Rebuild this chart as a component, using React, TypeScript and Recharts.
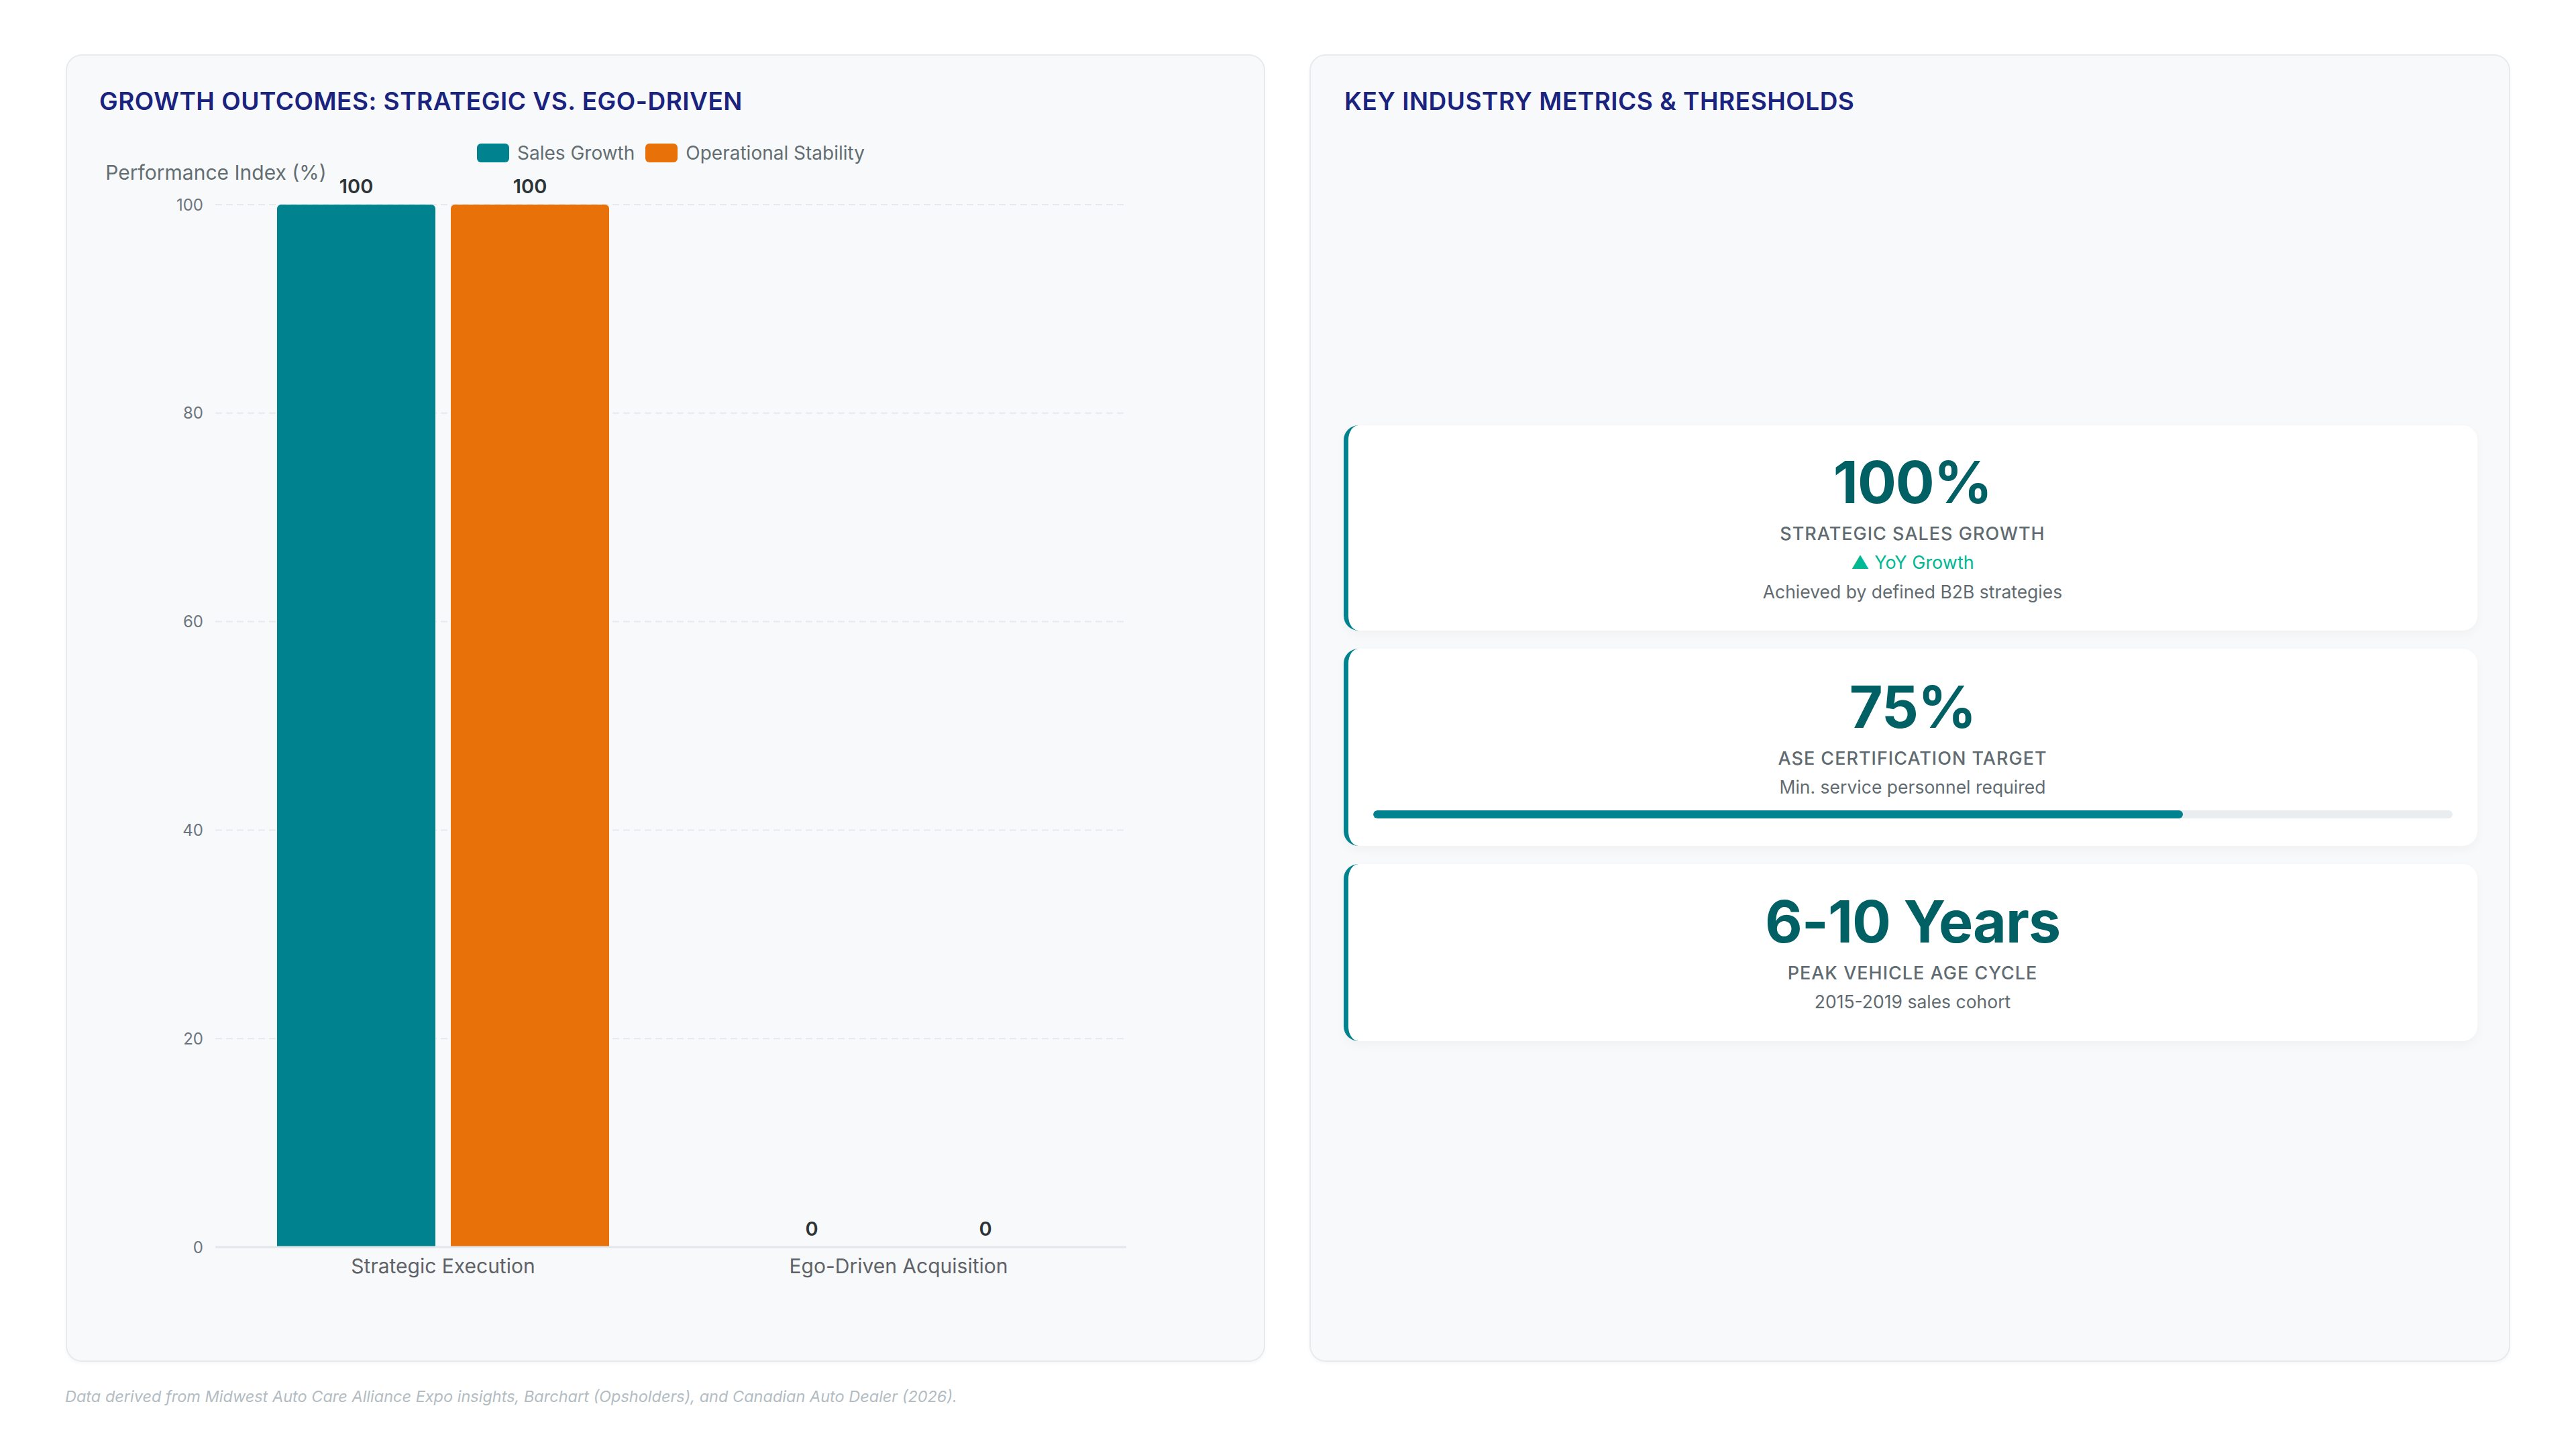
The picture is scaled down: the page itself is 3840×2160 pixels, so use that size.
import React from 'react'
import {
  BarChart,
  Bar,
  XAxis,
  YAxis,
  CartesianGrid,
  Legend,
  LabelList,
} from 'recharts'

// chart data
const categories = ['Strategic Execution', 'Ego-Driven Acquisition']
const seriesNames = ['Sales Growth', 'Operational Stability']
const salesGrowth = [100, 0]
const operationalStability = [100, 0]
const yTicks = [0, 20, 40, 60, 80, 100]

// key metric cards
const metricValues = ['100%', '75%', '6-10 Years']
const metricLabels = [
  'STRATEGIC SALES GROWTH',
  'ASE CERTIFICATION TARGET',
  'PEAK VEHICLE AGE CYCLE',
]
const metricTrends = ['▲ YoY Growth', '', '']
const metricNotes = [
  'Achieved by defined B2B strategies',
  'Min. service personnel required',
  '2015-2019 sales cohort',
]
const certificationProgress = 75

const FONT = 'Inter, "Noto Sans", sans-serif'
const TEAL = '#00838f'
const ORANGE = '#e8710a'
const seriesColors = [TEAL, ORANGE]

const chartData = categories.map((name, i) => ({
  name,
  sales: salesGrowth[i],
  stability: operationalStability[i],
}))

// place a line of text by its baseline (Inter, line-height 1)
function Txt({
  left,
  baseline,
  size,
  width,
  align = 'left',
  weight = 400,
  color = '#333',
  spacing = 0,
  italic = false,
  children,
}: {
  left: number
  baseline: number
  size: number
  width?: number
  align?: 'left' | 'center'
  weight?: number
  color?: string
  spacing?: number
  italic?: boolean
  children: React.ReactNode
}) {
  return (
    <div
      style={{
        position: 'absolute',
        left,
        width,
        top: baseline - 0.864 * size,
        fontSize: size,
        lineHeight: `${size}px`,
        fontWeight: weight,
        color,
        letterSpacing: spacing,
        fontStyle: italic ? 'italic' : 'normal',
        textAlign: align,
        whiteSpace: 'nowrap',
        fontFamily: FONT,
      }}
    >
      {children}
    </div>
  )
}

const YAxisTitle = (props: any) => {
  const vb = props.viewBox || { x: 0, y: 0, width: 0 }
  return (
    <text
      x={vb.x + vb.width + 1}
      y={vb.y - 37}
      textAnchor="middle"
      fontSize={30}
      fill="#636e72"
      fontFamily={FONT}
    >
      Performance Index (%)
    </text>
  )
}

// value above each bar, also drawn for zero-height bars
const BarValueLabel = (props: any) => {
  const vb = props.viewBox || props
  if (vb.x == null || vb.y == null) return null
  return (
    <text
      x={vb.x + vb.width / 2}
      y={vb.y - 17}
      textAnchor="middle"
      fontSize={29}
      fontWeight={600}
      fill="#2d3436"
      fontFamily={FONT}
    >
      {props.value}
    </text>
  )
}

const renderLegend = (props: any) => {
  const payload = [...(props.payload || [])].sort(
    (a: any, b: any) => seriesNames.indexOf(a.value) - seriesNames.indexOf(b.value)
  )
  return (
    <div
      style={{
        display: 'flex',
        justifyContent: 'center',
        alignItems: 'center',
        height: 40,
        gap: 16,
        fontFamily: FONT,
      }}
    >
      {payload.map((entry: any) => (
        <div
          key={entry.value}
          style={{ display: 'flex', alignItems: 'center', gap: 12 }}
        >
          <span
            style={{
              width: 48,
              height: 28,
              borderRadius: 6,
              background: seriesColors[seriesNames.indexOf(entry.value)] || entry.color,
              display: 'inline-block',
            }}
          />
          <span style={{ fontSize: 28, color: '#636e72' }}>{entry.value}</span>
        </div>
      ))}
    </div>
  )
}

function GrowthChart() {
  return (
    <div style={{ position: 'absolute', left: 147, top: 180 }}>
      <BarChart
        width={1690}
        height={1760}
        data={chartData}
        margin={{ top: 85, right: 158, left: 74, bottom: 21 }}
        barSize={236}
        barGap={23}
      >
        <CartesianGrid
          vertical={false}
          stroke="#e6e9ed"
          strokeWidth={2}
          strokeDasharray="10 6"
        />
        <XAxis
          dataKey="name"
          height={60}
          axisLine={{ stroke: '#e3e6ea', strokeWidth: 3 }}
          tickLine={false}
          tickMargin={12}
          tick={{ fontSize: 30, fill: '#5f6368', fontFamily: FONT }}
        />
        <YAxis
          width={100}
          domain={[0, 100]}
          ticks={yTicks}
          axisLine={false}
          tickLine={false}
          tickMargin={12}
          tick={{ fontSize: 24, fill: '#6c757d', fontFamily: FONT }}
          label={<YAxisTitle />}
        />
        <Legend
          verticalAlign="top"
          content={renderLegend}
          wrapperStyle={{ top: 28, left: 174, width: 1358, height: 40 }}
        />
        <Bar
          dataKey="sales"
          name={seriesNames[0]}
          fill={TEAL}
          radius={[6, 6, 0, 0]}
          minPointSize={0.01}
          isAnimationActive={false}
        >
          <LabelList dataKey="sales" content={BarValueLabel} />
        </Bar>
        <Bar
          dataKey="stability"
          name={seriesNames[1]}
          fill={ORANGE}
          radius={[6, 6, 0, 0]}
          minPointSize={0.01}
          isAnimationActive={false}
        >
          <LabelList dataKey="stability" content={BarValueLabel} />
        </Bar>
      </BarChart>
    </div>
  )
}

const panelStyle: React.CSSProperties = {
  position: 'absolute',
  top: 81,
  height: 1949,
  background: '#f8f9fb',
  border: '2px solid #e8ebee',
  borderRadius: 24,
  boxSizing: 'border-box',
  boxShadow: '0 3px 4px rgba(0,0,0,0.03)',
}

// metric card boxes and text baselines
const cardTops = [634, 967, 1288]
const cardHeights = [306, 294, 264]
const valueBaselines = [750, 1085, 1405]
const labelBaselines = [805, 1140, 1460]
const CARD_LEFT = 2003
const CARD_WIDTH = 1690

function MetricCards() {
  return (
    <>
      {metricValues.map((v, i) => {
        let next = labelBaselines[i] + 43
        const trend = metricTrends[i]
        const trendBaseline = next
        if (trend) next += 44
        const noteBaseline = next
        return (
          <React.Fragment key={v}>
            <div
              style={{
                position: 'absolute',
                left: CARD_LEFT,
                top: cardTops[i],
                width: CARD_WIDTH,
                height: cardHeights[i],
                background: '#ffffff',
                borderLeft: `7px solid ${TEAL}`,
                borderRadius: 22,
                boxSizing: 'border-box',
                boxShadow: '0 6px 16px rgba(0,0,0,0.035)',
              }}
            />
            <Txt
              left={CARD_LEFT + 3}
              width={CARD_WIDTH}
              align="center"
              baseline={valueBaselines[i]}
              size={86}
              weight={700}
              color="#006064"
              spacing={-1}
            >
              {v}
            </Txt>
            <Txt
              left={CARD_LEFT + 3}
              width={CARD_WIDTH}
              align="center"
              baseline={labelBaselines[i]}
              size={27}
              weight={500}
              color="#5f6b70"
              spacing={1}
            >
              {metricLabels[i]}
            </Txt>
            {trend && (
              <Txt
                left={CARD_LEFT + 3}
                width={CARD_WIDTH}
                align="center"
                baseline={trendBaseline}
                size={27}
                color="#00b894"
              >
                {trend}
              </Txt>
            )}
            <Txt
              left={CARD_LEFT + 3}
              width={CARD_WIDTH}
              align="center"
              baseline={noteBaseline}
              size={26.5}
              color="#5f6b70"
            >
              {metricNotes[i]}
            </Txt>
          </React.Fragment>
        )
      })}
      <div
        style={{
          position: 'absolute',
          left: 2047,
          top: 1208,
          width: 1609,
          height: 12,
          borderRadius: 6,
          background: '#e9edf0',
          overflow: 'hidden',
        }}
      >
        <div
          style={{
            width: `${certificationProgress}%`,
            height: '100%',
            borderRadius: 6,
            background: TEAL,
          }}
        />
      </div>
    </>
  )
}

export default function App() {
  return (
    <div
      style={{
        position: 'absolute',
        left: 0,
        top: 0,
        width: 3840,
        height: 2160,
        background: '#ffffff',
        overflow: 'hidden',
        fontFamily: FONT,
      }}
    >
      <div style={{ ...panelStyle, left: 98, width: 1788 }} />
      <div style={{ ...panelStyle, left: 1952, width: 1790 }} />

      <Txt left={148} baseline={164} size={37} weight={600} color="#1a237e" spacing={0.5}>
        GROWTH OUTCOMES: STRATEGIC VS. EGO-DRIVEN
      </Txt>
      <Txt left={2004} baseline={164} size={37} weight={600} color="#1a237e" spacing={0.5}>
        KEY INDUSTRY METRICS &amp; THRESHOLDS
      </Txt>

      <GrowthChart />
      <MetricCards />

      <Txt left={97} baseline={2090} size={23.5} italic color="#b2bcc2">
        Data derived from Midwest Auto Care Alliance Expo insights, Barchart (Opsholders), and Canadian Auto Dealer (2026).
      </Txt>
    </div>
  )
}
